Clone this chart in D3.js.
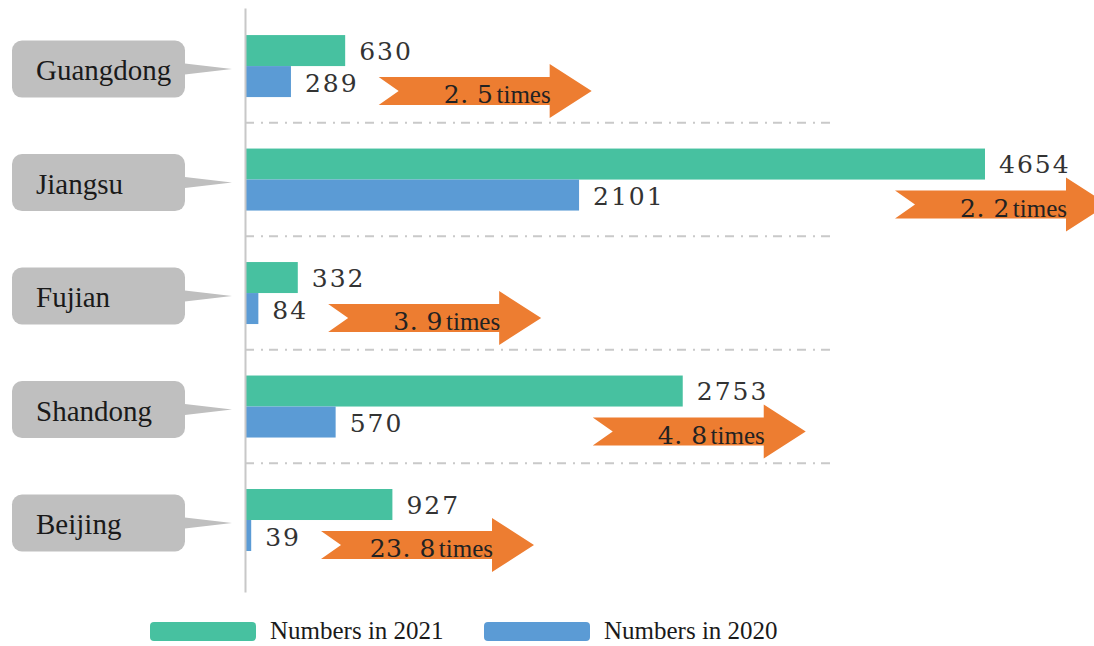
<!DOCTYPE html>
<html>
<head>
<meta charset="utf-8">
<script src="https://cdn.jsdelivr.net/npm/d3@7"></script>
<style>
  body { margin: 0; background: #fff; }
  svg { display: block; }
</style>
</head>
<body>
<div id="wrapper"></div>
<script>
const provinces = ['Guangdong', 'Jiangsu', 'Fujian', 'Shandong', 'Beijing'];
const numbers2021 = [630, 4654, 332, 2753, 927];
const numbers2020 = [289, 2101, 84, 570, 39];
const ratioLabels = ['2. 5', '2. 2', '3. 9', '4. 8', '23. 8'];
const seriesNames = ['Numbers in 2021', 'Numbers in 2020'];

function drawBarChart() {
  const dataset = provinces.map((p, i) => ({
    province: p,
    v2021: numbers2021[i],
    v2020: numbers2020[i],
    ratio: ratioLabels[i],
  }));

  const colors = { v2021: '#47c1a0', v2020: '#5b9bd5', arrow: '#ed7d31', box: '#bfbfbf' };
  const numFont = '"DejaVu Serif", serif';
  const textFont = '"Liberation Serif", "Times New Roman", serif';

  let dimensions = {
    width: 1094,
    height: 646,
    margin: { top: 8, right: 0, bottom: 54, left: 245 },
  };
  dimensions.boundedWidth = 740;
  dimensions.boundedHeight = dimensions.height - dimensions.margin.top - dimensions.margin.bottom;

  const wrapper = d3.select('#wrapper')
    .append('svg')
    .attr('width', dimensions.width)
    .attr('height', dimensions.height);

  const bounds = wrapper.append('g')
    .attr('transform', `translate(${dimensions.margin.left}, 0)`);

  // one band per province, both bars share it
  const yScale = d3.scaleBand()
    .domain(provinces)
    .range([dimensions.margin.top, dimensions.margin.top + dimensions.boundedHeight])
    .paddingInner(0)
    .paddingOuter(0.073)
    .align(0.08);
  const rowCenter = d => yScale(d.province) + yScale.bandwidth() / 2;

  const xScale = d3.scaleLinear()
    .domain([0, d3.max(numbers2021)])
    .range([0, dimensions.boundedWidth]);

  const barHeight = 31;

  // dash-dot separators between rows
  bounds.append('g')
    .selectAll('line')
    .data(provinces.slice(0, -1))
    .join('line')
    .attr('x1', 0)
    .attr('x2', dimensions.boundedWidth * 0.795)
    .attr('y1', d => yScale(d) + yScale.step())
    .attr('y2', d => yScale(d) + yScale.step())
    .attr('stroke', '#c9c9c9')
    .attr('stroke-width', 2)
    .attr('stroke-dasharray', '9,7,2,6');

  // bars
  bounds.append('g')
    .selectAll('rect')
    .data(dataset)
    .join('rect')
    .attr('x', 0)
    .attr('y', d => rowCenter(d) - barHeight)
    .attr('width', d => xScale(d.v2021))
    .attr('height', barHeight)
    .attr('fill', colors.v2021);

  bounds.append('g')
    .selectAll('rect')
    .data(dataset)
    .join('rect')
    .attr('x', 0)
    .attr('y', d => rowCenter(d))
    .attr('width', d => xScale(d.v2020))
    .attr('height', barHeight)
    .attr('fill', colors.v2020);

  // value labels
  bounds.append('g')
    .selectAll('text')
    .data(dataset)
    .join('text')
    .attr('x', d => xScale(d.v2021) + 14)
    .attr('y', d => rowCenter(d) - 15)
    .attr('dominant-baseline', 'central')
    .style('font-family', numFont)
    .style('font-size', '25px')
    .style('letter-spacing', '2px')
    .attr('fill', '#333')
    .text(d => d.v2021);

  const blueLabels = bounds.append('g')
    .selectAll('text')
    .data(dataset)
    .join('text')
    .attr('x', d => xScale(d.v2020) + 14)
    .attr('y', d => rowCenter(d) + 17)
    .attr('dominant-baseline', 'central')
    .style('font-family', numFont)
    .style('font-size', '25px')
    .style('letter-spacing', '2px')
    .attr('fill', '#333')
    .text(d => d.v2020);

  // orange "x times" arrows, placed after the 2020 label
  const arrowW = 213, headL = 42, bodyH = 14, headH = 27, notch = 20;
  const labelEnds = [];
  blueLabels.each(function (d) { labelEnds.push(xScale(d.v2020) + 14 + this.getComputedTextLength()); });

  const arrows = bounds.append('g')
    .selectAll('g')
    .data(dataset)
    .join('g')
    .attr('transform', (d, i) => {
      const left = Math.max(labelEnds[i] + 20, xScale(d.v2021) - 90);
      return `translate(${left}, ${rowCenter(d) + 25})`;
    });

  arrows.append('path')
    .attr('d', d3.line()([
      [0, -bodyH], [arrowW - headL, -bodyH], [arrowW - headL, -headH], [arrowW, 0],
      [arrowW - headL, headH], [arrowW - headL, bodyH], [0, bodyH], [notch, 0],
    ]) + 'Z')
    .attr('fill', colors.arrow);

  const arrowText = arrows.append('text')
    .attr('x', arrowW - headL + 1)
    .attr('y', 3)
    .attr('text-anchor', 'end')
    .attr('dominant-baseline', 'central')
    .attr('fill', '#222');
  arrowText.append('tspan')
    .style('font-family', numFont)
    .style('font-size', '25px')
    .style('letter-spacing', '0.5px')
    .text(d => d.ratio);
  arrowText.append('tspan')
    .attr('dx', 3)
    .style('font-family', textFont)
    .style('font-size', '25px')
    .text('times');

  // vertical axis line only
  const yAxisGenerator = d3.axisLeft(yScale).tickSize(0).tickFormat(() => '');
  const yAxis = bounds.append('g').call(yAxisGenerator);
  yAxis.select('.domain').attr('stroke', '#c8c8c8').attr('stroke-width', 2);

  // province callout boxes on the left
  const callouts = wrapper.append('g')
    .selectAll('g')
    .data(dataset)
    .join('g')
    .attr('transform', d => `translate(12, ${rowCenter(d) + 3})`);

  callouts.append('path')
    .attr('d', d3.line()([[160, -7], [220, 0], [160, 7]]) + 'Z')
    .attr('fill', colors.box);

  callouts.append('rect')
    .attr('x', 0)
    .attr('y', -28.5)
    .attr('width', 173)
    .attr('height', 57)
    .attr('rx', 10)
    .attr('fill', colors.box);

  callouts.append('text')
    .attr('x', 24)
    .attr('y', 11)
    .style('font-family', textFont)
    .style('font-size', '29px')
    .attr('fill', '#1a1a1a')
    .text(d => d.province);

  // legend
  const legend = wrapper.append('g')
    .attr('transform', `translate(150, ${dimensions.height - 15})`)
    .selectAll('g')
    .data(seriesNames)
    .join('g')
    .attr('transform', (d, i) => `translate(${i * 334}, 0)`);

  legend.append('rect')
    .attr('x', 0)
    .attr('y', -9)
    .attr('width', 106)
    .attr('height', 19)
    .attr('rx', 4)
    .attr('fill', (d, i) => i === 0 ? colors.v2021 : colors.v2020);

  legend.append('text')
    .attr('x', 120)
    .attr('y', 8)
    .style('font-family', textFont)
    .style('font-size', '25px')
    .attr('fill', '#1a1a1a')
    .text(d => d);
}

drawBarChart();
</script>
</body>
</html>
